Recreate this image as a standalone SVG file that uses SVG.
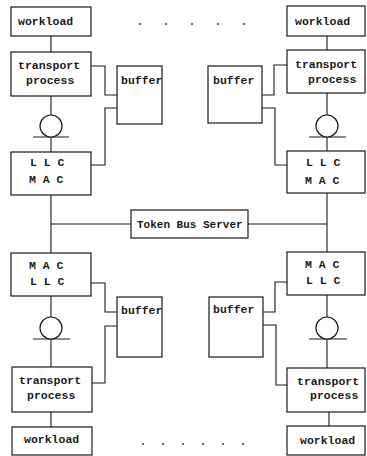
<svg xmlns="http://www.w3.org/2000/svg" width="367" height="456" viewBox="0 0 367 456">
  <style>
    .box { fill: #ffffff; stroke: #1a1a1a; stroke-width: 1.2; }
    .wire { fill: none; stroke: #1a1a1a; stroke-width: 1.1; }
    .port { fill: #ffffff; stroke: #1a1a1a; stroke-width: 1.2; }
    .lbl { font-family: "Liberation Mono", "DejaVu Sans Mono", monospace; font-size: 11.5px; font-weight: bold; fill: #1a1a1a; }
    .sm { font-size: 11px; }
    .dot { fill: #222222; }
  </style>
  <rect width="367" height="456" fill="#ffffff"/>

  <!-- connectors -->
  <g id="connectors">
    <!-- upper left station -->
    <path class="wire" d="M51 36 V52"/>
    <path class="wire" d="M51 96 V115"/>
    <path class="wire" d="M33 137 H69"/>
    <path class="wire" d="M51 137 V152"/>
    <path class="wire" d="M91 66 H105 V95 H117"/>
    <path class="wire" d="M117 108 H105 V165 H91"/>
    <!-- upper right station -->
    <path class="wire" d="M327 36 V50"/>
    <path class="wire" d="M327 93 V115"/>
    <path class="wire" d="M309 137 H346"/>
    <path class="wire" d="M327 137 V151"/>
    <path class="wire" d="M287 65 H274 V95 H262"/>
    <path class="wire" d="M262 108 H275 V165 H287"/>
    <!-- token bus -->
    <path class="wire" d="M51 195 V253"/>
    <path class="wire" d="M51 224 H131"/>
    <path class="wire" d="M248 224 H327"/>
    <path class="wire" d="M327 193 V252"/>
    <!-- lower left station -->
    <path class="wire" d="M51 296 V317"/>
    <path class="wire" d="M33 339 H70"/>
    <path class="wire" d="M51 339 V367"/>
    <path class="wire" d="M91 283 H105 V312 H117"/>
    <path class="wire" d="M117 326 H105 V383 H91"/>
    <path class="wire" d="M51 412 V427"/>
    <!-- lower right station -->
    <path class="wire" d="M327 295 V317"/>
    <path class="wire" d="M309 339 H347"/>
    <path class="wire" d="M327 339 V368"/>
    <path class="wire" d="M287 282 H275 V312 H263"/>
    <path class="wire" d="M263 325 H276 V385 H287"/>
    <path class="wire" d="M329 412 V426"/>
  </g>

  <!-- ports (circles) -->
  <g id="port-ul"><circle class="port" cx="51" cy="126" r="11"/></g>
  <g id="port-ur"><circle class="port" cx="327" cy="126" r="11"/></g>
  <g id="port-ll"><circle class="port" cx="51" cy="328" r="11"/></g>
  <g id="port-lr"><circle class="port" cx="327" cy="328" r="11"/></g>

  <!-- upper left station -->
  <g id="workload-ul">
    <rect class="box" x="11" y="7" width="80" height="29"/>
    <text class="lbl" x="18" y="25">workload</text>
  </g>
  <g id="transport-ul">
    <rect class="box" x="11" y="52" width="80" height="44"/>
    <text class="lbl" x="18" y="69">transport</text>
    <text class="lbl" x="26" y="84">process</text>
  </g>
  <g id="buffer-ul">
    <rect class="box" x="117" y="66" width="45" height="58"/>
    <text class="lbl" x="121" y="84">buffer</text>
  </g>
  <g id="llcmac-ul">
    <rect class="box" x="11" y="152" width="80" height="43"/>
    <text class="lbl" x="30" y="166">L L C</text>
    <text class="lbl" x="29" y="183">M A C</text>
  </g>

  <!-- upper right station -->
  <g id="workload-ur">
    <rect class="box" x="287" y="6" width="78" height="30"/>
    <text class="lbl" x="295" y="25">workload</text>
  </g>
  <g id="transport-ur">
    <rect class="box" x="287" y="50" width="78" height="43"/>
    <text class="lbl" x="295" y="68">transport</text>
    <text class="lbl" x="308" y="83">process</text>
  </g>
  <g id="buffer-ur">
    <rect class="box" x="208" y="66" width="54" height="57"/>
    <text class="lbl" x="213" y="84">buffer</text>
  </g>
  <g id="llcmac-ur">
    <rect class="box" x="287" y="151" width="78" height="42"/>
    <text class="lbl" x="306" y="166">L L C</text>
    <text class="lbl" x="305" y="184">M A C</text>
  </g>

  <!-- token bus server -->
  <g id="token-bus-server">
    <rect class="box" x="131" y="210" width="117" height="28"/>
    <text class="lbl sm" x="137" y="228">Token Bus Server</text>
  </g>

  <!-- lower left station -->
  <g id="macllc-ll">
    <rect class="box" x="11" y="253" width="80" height="43"/>
    <text class="lbl" x="29" y="269">M A C</text>
    <text class="lbl" x="30" y="285">L L C</text>
  </g>
  <g id="buffer-ll">
    <rect class="box" x="117" y="297" width="45" height="60"/>
    <text class="lbl" x="121" y="314">buffer</text>
  </g>
  <g id="transport-ll">
    <rect class="box" x="12" y="367" width="80" height="45"/>
    <text class="lbl" x="19" y="384">transport</text>
    <text class="lbl" x="27" y="399">process</text>
  </g>
  <g id="workload-ll">
    <rect class="box" x="12" y="427" width="80" height="28"/>
    <text class="lbl" x="24" y="443">workload</text>
  </g>

  <!-- lower right station -->
  <g id="macllc-lr">
    <rect class="box" x="287" y="252" width="78" height="43"/>
    <text class="lbl" x="305" y="268">M A C</text>
    <text class="lbl" x="306" y="284">L L C</text>
  </g>
  <g id="buffer-lr">
    <rect class="box" x="209" y="297" width="54" height="60"/>
    <text class="lbl" x="213" y="313">buffer</text>
  </g>
  <g id="transport-lr">
    <rect class="box" x="287" y="368" width="78" height="44"/>
    <text class="lbl" x="297" y="385">transport</text>
    <text class="lbl" x="310" y="399">process</text>
  </g>
  <g id="workload-lr">
    <rect class="box" x="287" y="426" width="78" height="29"/>
    <text class="lbl" x="300" y="444">workload</text>
  </g>

  <!-- ellipsis dots between stations -->
  <g id="dots-top">
    <circle class="dot" cx="140" cy="24" r="0.9"/>
    <circle class="dot" cx="166" cy="24" r="0.9"/>
    <circle class="dot" cx="192" cy="24" r="0.9"/>
    <circle class="dot" cx="218" cy="24" r="0.9"/>
    <circle class="dot" cx="244" cy="24" r="0.9"/>
  </g>
  <g id="dots-bottom">
    <circle class="dot" cx="143" cy="444" r="0.9"/>
    <circle class="dot" cx="163" cy="444" r="0.9"/>
    <circle class="dot" cx="183" cy="444" r="0.9"/>
    <circle class="dot" cx="203" cy="444" r="0.9"/>
    <circle class="dot" cx="223" cy="444" r="0.9"/>
    <circle class="dot" cx="243" cy="444" r="0.9"/>
  </g>
</svg>
